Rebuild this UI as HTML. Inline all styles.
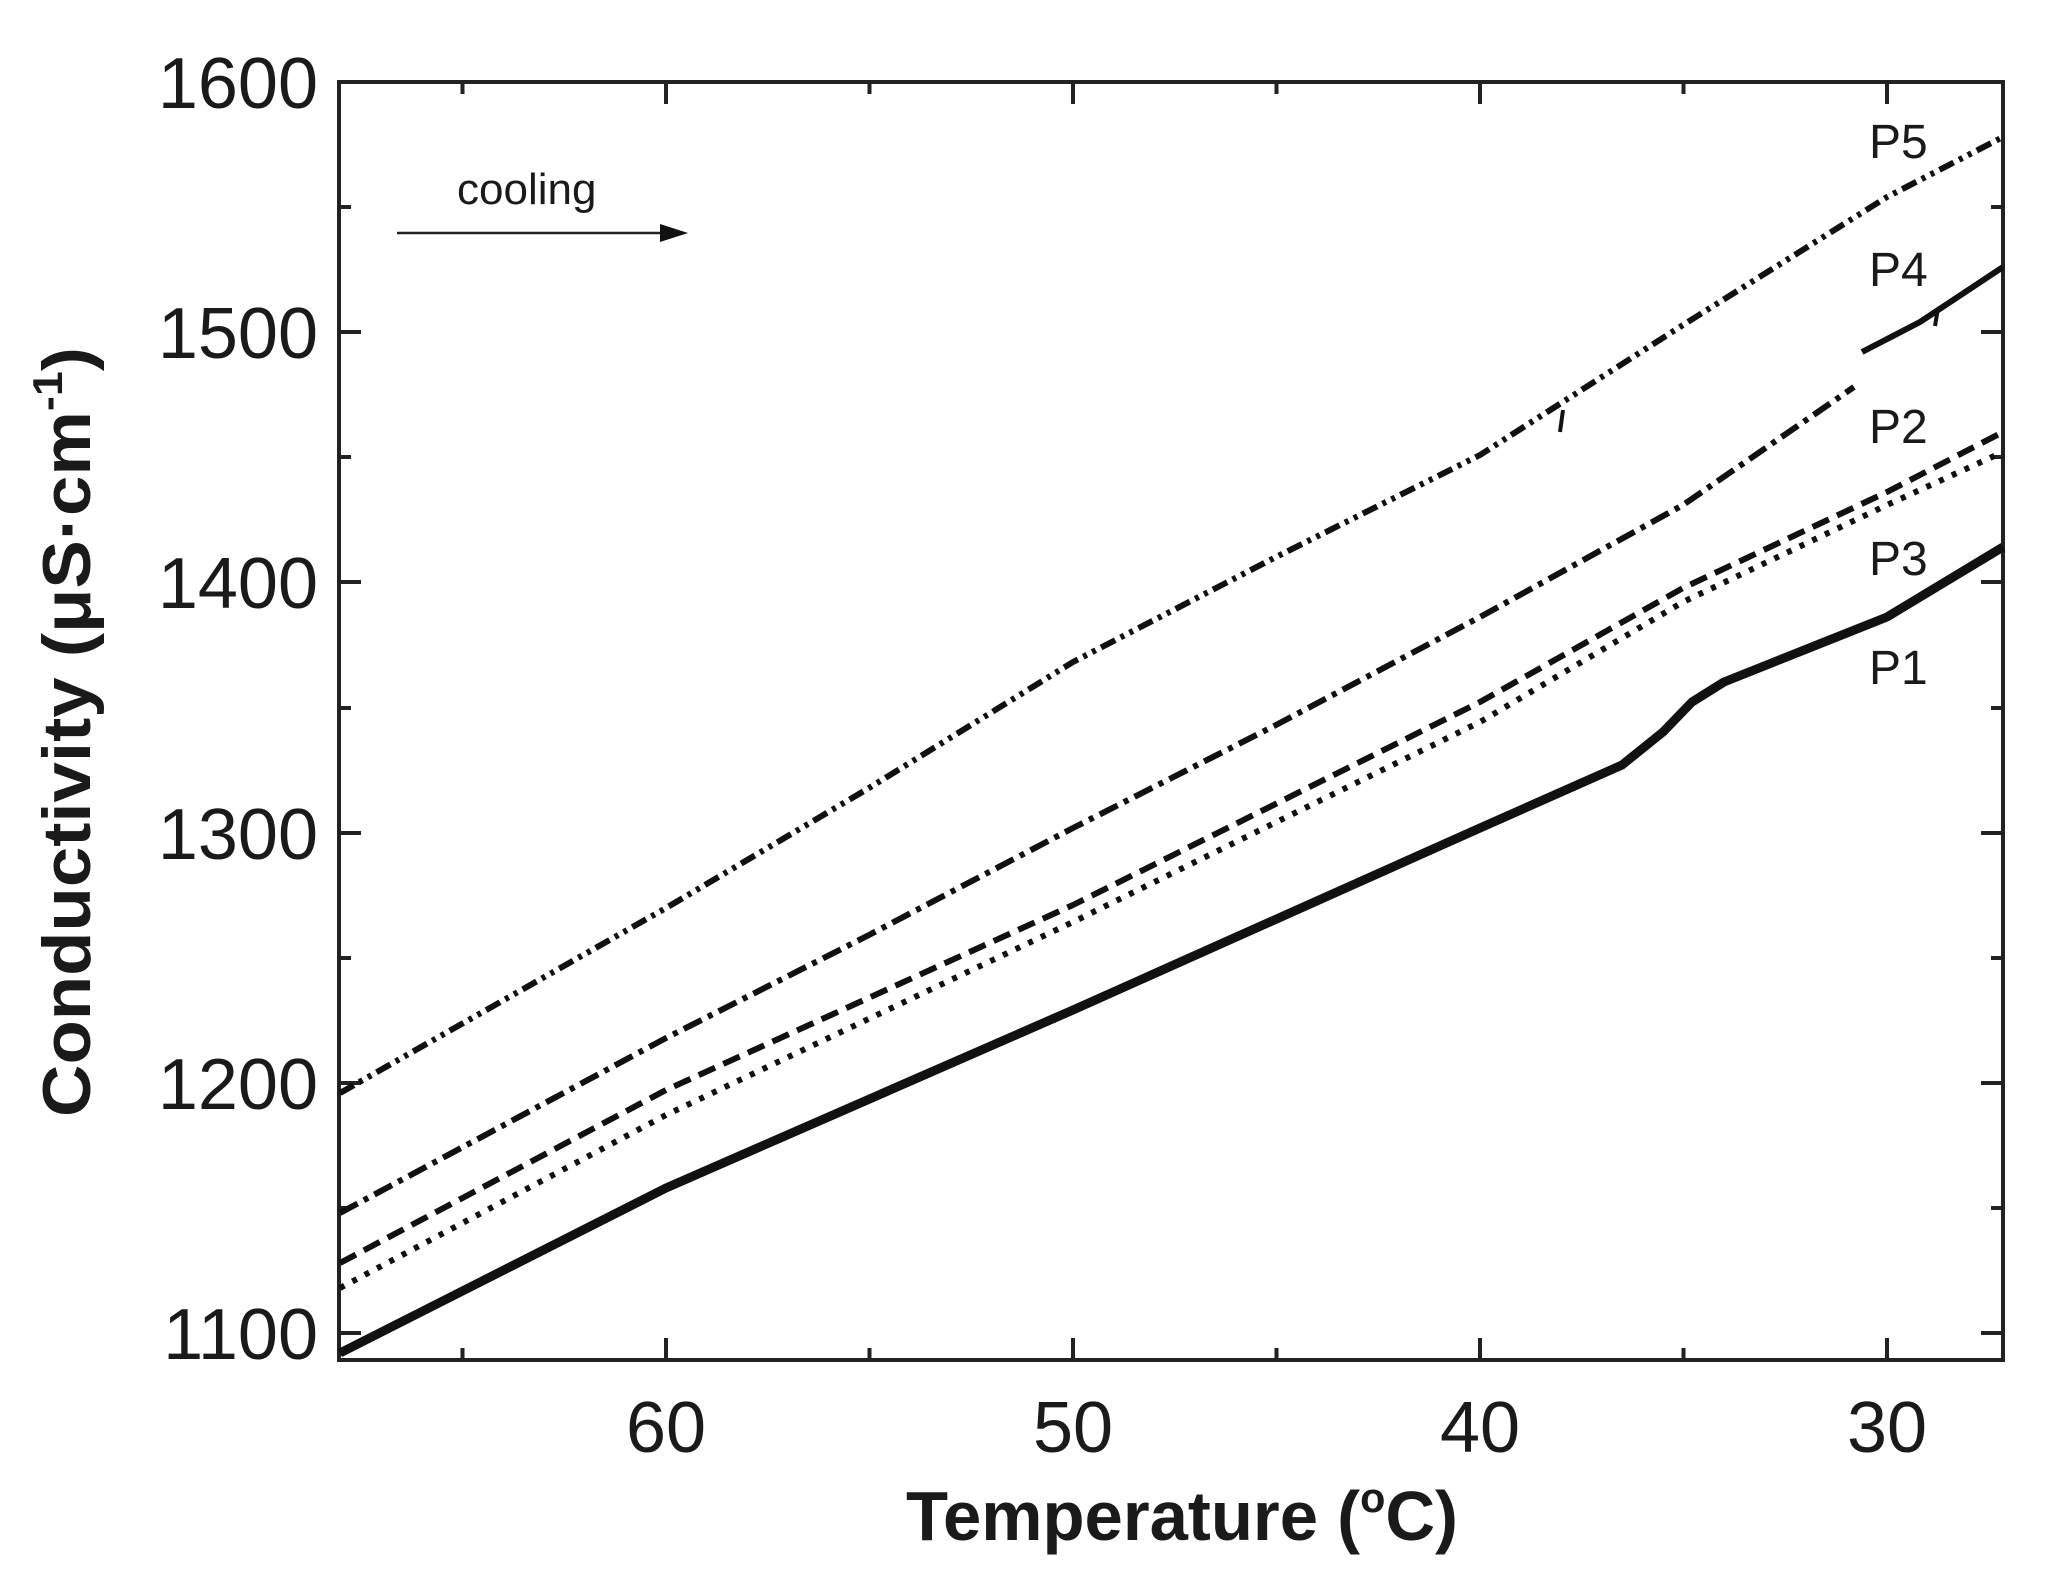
<!DOCTYPE html>
<html><head><meta charset="utf-8"><style>
html,body{margin:0;padding:0;background:#fff;}
svg{display:block;}
text{font-family:"Liberation Sans",Arial,sans-serif;fill:#1a1a1a;}
</style></head><body>
<svg width="2060" height="1571" viewBox="0 0 2060 1571" xmlns="http://www.w3.org/2000/svg">
<rect width="2060" height="1571" fill="#fff"/>
<g stroke="#222" stroke-width="4" fill="none">
<rect x="339" y="82" width="1664" height="1278"/>
<path d="M666 1360v-22M1073 1360v-22M1480 1360v-22M1887 1360v-22M666 82v22M1073 82v22M1480 82v22M1887 82v22"/>
<path d="M462.5 1360v-12M869.5 1360v-12M1276.5 1360v-12M1683.5 1360v-12M462.5 82v12M869.5 82v12M1276.5 82v12M1683.5 82v12"/>
<path d="M339 332h22M339 582h22M339 833h22M339 1083h22M339 1333h22M2003 332h-22M2003 582h-22M2003 833h-22M2003 1083h-22M2003 1333h-22"/>
<path d="M339 207h12M339 457h12M339 708h12M339 958h12M339 1208h12M2003 207h-12M2003 457h-12M2003 708h-12M2003 958h-12M2003 1208h-12"/>
</g>
<g font-size="72" text-anchor="end">
<text x="318" y="108">1600</text>
<text x="318" y="358">1500</text>
<text x="318" y="608">1400</text>
<text x="318" y="859">1300</text>
<text x="318" y="1109">1200</text>
<text x="318" y="1359">1100</text>
</g>
<g font-size="72" text-anchor="middle">
<text x="666" y="1452">60</text>
<text x="1073" y="1452">50</text>
<text x="1480" y="1452">40</text>
<text x="1887" y="1452">30</text>
</g>
<text x="1182" y="1540" font-size="70" font-weight="bold" text-anchor="middle" textLength="552" lengthAdjust="spacingAndGlyphs">Temperature (<tspan font-size="42" dy="-28">o</tspan><tspan dy="28">C)</tspan></text>
<text transform="translate(90,732) rotate(-90)" font-size="68" font-weight="bold" text-anchor="middle" textLength="770" lengthAdjust="spacingAndGlyphs">Conductivity (μS·cm<tspan font-size="42" dy="-28">-1</tspan><tspan dy="28">)</tspan></text>
<text x="457" y="204" font-size="44">cooling</text>
<line x1="397" y1="233" x2="664" y2="233" stroke="#222" stroke-width="2.5"/>
<polygon points="660,224 688,233 660,242" fill="#111"/>
<g font-size="48">
<text x="1869" y="158">P5</text>
<text x="1869" y="286">P4</text>
<text x="1869" y="443">P2</text>
<text x="1869" y="575">P3</text>
<text x="1869" y="684">P1</text>
</g>
<g fill="none" stroke="#111" stroke-linejoin="round">
<polyline stroke-width="9" points="340,1353 666,1188 1073,1010 1480,828 1622,765 1663,732 1692,702 1724,682 1887,617 2003,547"/>
<polyline stroke-width="6" stroke-dasharray="5 9" points="340,1288 666,1115 1073,922 1480,722 1683,602 1887,505 2003,452"/>
<polyline stroke-width="6" stroke-dasharray="18 9" points="340,1263 666,1090 1073,905 1480,702 1683,588 1887,492 2003,432"/>
<polyline stroke-width="6" stroke-dasharray="20 7 5 7" points="340,1213 666,1038 869,935 1073,828 1276,725 1480,617 1683,505 1854,387"/>
<polyline stroke-width="6" points="1862,352 1920,322 2003,267"/>
<polyline stroke-width="6" stroke-dasharray="16 6 4 6 4 6" points="340,1093 666,908 869,788 1073,662 1276,557 1480,455 1683,325 1887,197 2003,137"/>
<path stroke-width="4" d="M1563 410l-3 22M1938 308l-3 18"/>
</g>
</svg>
</body></html>
